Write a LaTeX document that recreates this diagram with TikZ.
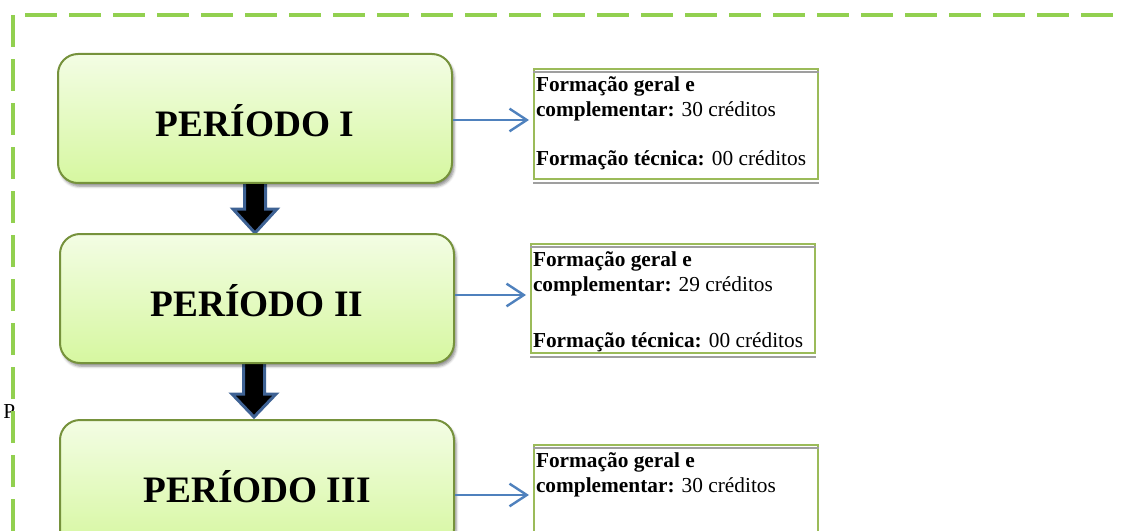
\documentclass[tikz,border=0pt]{standalone}
\usepackage{fontspec}
\setmainfont{Liberation Serif}
\usetikzlibrary{arrows.meta, shadows.blur, backgrounds}
\definecolor{framegreen}{RGB}{146,208,80}
\definecolor{boxline}{RGB}{118,146,60}
\definecolor{boxtop}{RGB}{243,253,228}
\definecolor{boxbottom}{RGB}{214,247,160}
\definecolor{infogreen}{RGB}{155,187,89}
\definecolor{linkblue}{RGB}{79,129,189}
\definecolor{arrowrim}{RGB}{62,98,148}

\begin{document}
\begin{tikzpicture}[x=0.75pt, y=-0.75pt,
    periodo/.style={rectangle, rounded corners=15pt, draw=boxline, line width=1.5pt,
      top color=boxtop, bottom color=boxbottom, minimum width=295.5pt, minimum height=96.75pt,
      inner sep=0pt, blur shadow={shadow xshift=1.5pt, shadow yshift=-2.5pt, shadow blur radius=2pt, shadow opacity=45},
      font=\fontsize{28}{30}\selectfont\bfseries, text height=27.5pt, text depth=0pt},
    info/.style={draw=infogreen, line width=1.5pt, inner xsep=1.5pt, inner ysep=0pt,
      anchor=north west, font=\fontsize{16}{18.5}\selectfont},
    rim/.style={draw=gray!75, line width=1.5pt},
    link/.style={draw=linkblue, line width=1.8pt, -{Straight Barb[length=13pt, width=17pt]}, shorten >=3pt},
    blockarrow/.style={fill=black, draw=arrowrim, line width=2.25pt, line join=miter},
    frame/.style={draw=framegreen, line width=3pt, dash pattern=on 24pt off 9pt}]
  \useasboundingbox (0,0) rectangle (1124,531);
  \clip (0,0) rectangle (1124,531);

  % stray letter behind the frame
  \node[anchor=base west, inner sep=0pt, font=\fontsize{16}{18}\selectfont] (stray) at (3,418) {P};
  \draw[frame] (13,531) -- (13,15) -- (1124,15);

  % periods
  \node[periodo] (p1) at (255,118.5) {PERÍODO I};
  \node[periodo] (p2) at (257,298.5) {PERÍODO II};
  \node[periodo] (p3) at (257,484.5) {PERÍODO III};

  % down arrows between periods
  \begin{scope}[on background layer]
    \draw[blockarrow, shift={(p1.south)}] (-10.5,-6) -- (-10.5,25) -- (-22,25) -- (0,49) -- (22,25) -- (10.5,25) -- (10.5,-6) -- cycle;
    \draw[blockarrow, shift={(p2.south)}] (-13.5,-6) -- (-13.5,30) -- (-25,30) -- (-3,53) -- (19,30) -- (7.5,30) -- (7.5,-6) -- cycle;
  \end{scope}

  % credit boxes
  \node[info] (i1) at (533,68) {\parbox[t][82.5pt][t]{210pt}{\rule{0pt}{17pt}\textbf{Formação geral e}\\
    \textbf{complementar:} 30 créditos\\[18.5pt]
    \textbf{Formação técnica:} 00 créditos}};
  \node[info] (i2) at (530,243) {\parbox[t][81.75pt][t]{210pt}{\rule{0pt}{17pt}\textbf{Formação geral e}\\
    \textbf{complementar:} 29 créditos\\[23.5pt]
    \textbf{Formação técnica:} 00 créditos}};
  \node[info] (i3) at (533,444) {\parbox[t][82.5pt][t]{210pt}{\rule{0pt}{17pt}\textbf{Formação geral e}\\
    \textbf{complementar:} 30 créditos}};
  \draw[rim] ([yshift=-3pt]i1.north west) -- ([yshift=-3pt]i1.north east);
  \draw[rim] ([yshift=-2pt]i1.south west) -- ([yshift=-2pt]i1.south east);
  \draw[rim] ([yshift=-3pt]i2.north west) -- ([yshift=-3pt]i2.north east);
  \draw[rim] ([yshift=-2pt]i2.south west) -- ([yshift=-2pt]i2.south east);
  \draw[rim] ([yshift=-3pt]i3.north west) -- ([yshift=-3pt]i3.north east);

  % links
  \draw[link] (p1.east |- 0,120) -- (i1.west |- 0,120);
  \draw[link] (p2.east |- 0,295) -- (i2.west |- 0,295);
  \draw[link] (p3.east |- 0,495) -- (i3.west |- 0,495);
\end{tikzpicture}
\end{document}
